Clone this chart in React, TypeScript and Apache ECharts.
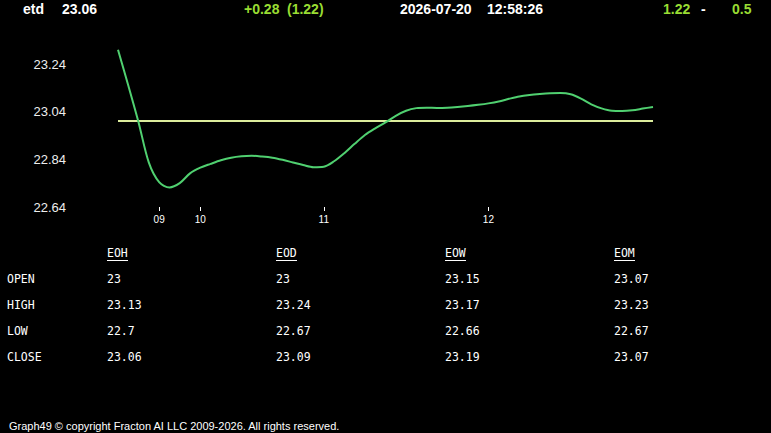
import React, { useEffect, useRef } from 'react';
import * as echarts from 'echarts';

const symbolName = 'etd';
const lastPrice = '23.06';
const changeAbs = '+0.28';
const changePct = '(1.22)';
const dateText = '2026-07-20';
const timeText = '12:58:26';
const rangeHigh = '1.22';
const rangeSep = '-';
const rangeLow = '0.5';
const openValue = 23.0;

const priceSeries = [
  23.3, 23.15, 22.995, 22.826, 22.744, 22.722, 22.74, 22.781, 22.805, 22.821,
  22.836, 22.847, 22.853, 22.855, 22.852, 22.847, 22.838, 22.827, 22.816, 22.807,
  22.809, 22.832, 22.866, 22.905, 22.942, 22.97, 22.995, 23.023, 23.044, 23.055,
  23.057, 23.056, 23.057, 23.06, 23.064, 23.069, 23.075, 23.083, 23.094, 23.104,
  23.11, 23.114, 23.117, 23.118, 23.113, 23.095, 23.071, 23.054, 23.044, 23.043,
  23.046, 23.053, 23.06,
];
const hourIndex = [4, 8, 20, 36];
const hourLabels = ['09', '10', '11', '12'];
const yTicks = [22.64, 22.84, 23.04, 23.24];
const yMin = 22.64;
const yMax = 23.32;

const tableColumns = ['EOH', 'EOD', 'EOW', 'EOM'];
const tableRows = ['OPEN', 'HIGH', 'LOW', 'CLOSE'];
const eohValues = ['23', '23.13', '22.7', '23.06'];
const eodValues = ['23', '23.24', '22.67', '23.09'];
const eowValues = ['23.15', '23.17', '22.66', '23.19'];
const eomValues = ['23.07', '23.23', '22.67', '23.07'];
const footerText = 'Graph49 \u00A9 copyright Fracton AI LLC 2009-2026. All rights reserved.';

const GREEN = '#99dd33';
const WHITE = '#ffffff';
const HEAD_FONT = 'bold 14px "Liberation Sans", Arial, sans-serif';
const MONO_FONT = '11.5px "DejaVu Sans Mono", monospace';

export default function App() {
  const ref = useRef<HTMLDivElement>(null);
  useEffect(() => {
    if (!ref.current) return;
    const chart = echarts.init(ref.current, null, { renderer: 'svg' });
    const categories = priceSeries.map((_, i) => String(i));
    const showIdx = (i: number) => hourIndex.indexOf(i) >= 0;

    const graphics: any[] = [];
    const txt = (x: number, y: number, text: string, fill: string, font: string) =>
      graphics.push({
        type: 'text', x, y, silent: true,
        style: { text, fill, font, align: 'left', verticalAlign: 'middle' },
      });
    // header
    txt(23, 9, symbolName, WHITE, HEAD_FONT);
    txt(62, 9, lastPrice, WHITE, HEAD_FONT);
    txt(244, 9, changeAbs, GREEN, HEAD_FONT);
    txt(287, 9, changePct, GREEN, HEAD_FONT);
    txt(400, 9, dateText, WHITE, HEAD_FONT);
    txt(487, 9, timeText, WHITE, HEAD_FONT);
    txt(663, 9, rangeHigh, GREEN, HEAD_FONT);
    txt(701, 9, rangeSep, WHITE, HEAD_FONT);
    txt(732, 9, rangeLow, GREEN, HEAD_FONT);
    // table
    const colX = [107, 276, 445, 614];
    const rowY = [279, 305, 331, 357];
    const colVals = [eohValues, eodValues, eowValues, eomValues];
    tableColumns.forEach((c, ci) => {
      txt(colX[ci], 253, c, WHITE, MONO_FONT);
      graphics.push({
        type: 'line', silent: true,
        shape: { x1: colX[ci], y1: 260.5, x2: colX[ci] + c.length * 7, y2: 260.5 },
        style: { stroke: WHITE, lineWidth: 1 },
      });
      colVals[ci].forEach((v, ri) => txt(colX[ci], rowY[ri], v, WHITE, MONO_FONT));
    });
    tableRows.forEach((r, ri) => txt(7, rowY[ri], r, WHITE, MONO_FONT));
    // footer
    txt(9, 426, footerText, WHITE, '11px "Liberation Sans", Arial, sans-serif');

    chart.setOption({
      animation: false,
      backgroundColor: '#000000',
      grid: { left: 118, right: 118, top: 45, height: 162 },
      xAxis: {
        type: 'category',
        data: categories,
        boundaryGap: false,
        axisLine: { show: false },
        axisTick: {
          show: true, length: 4, interval: (i: number) => showIdx(i),
          lineStyle: { color: WHITE, width: 1 },
        },
        axisLabel: {
          interval: (i: number) => showIdx(i),
          formatter: (_v: string, i: number) => {
            const k = hourIndex.indexOf(i);
            return k >= 0 ? hourLabels[k] : '';
          },
          color: WHITE,
          fontSize: 10,
          fontFamily: '"Liberation Sans", Arial, sans-serif',
          margin: 7,
        },
        splitLine: { show: false },
      },
      yAxis: {
        type: 'value',
        min: yMin,
        max: yMax,
        interval: 0.2,
        axisLine: { show: false },
        axisTick: { show: false },
        splitLine: { show: false },
        axisLabel: {
          color: '#eeeeee',
          fontSize: 13,
          fontFamily: '"Liberation Sans", Arial, sans-serif',
          margin: 52,
          formatter: (v: number) =>
            yTicks.some((t) => Math.abs(t - v) < 1e-6) ? v.toFixed(2) : '',
        },
      },
      series: [
        {
          type: 'line',
          data: priceSeries,
          smooth: 0.3,
          showSymbol: false,
          symbol: 'none',
          lineStyle: { color: '#50d070', width: 2 },
          z: 3,
          markLine: {
            silent: true,
            symbol: ['none', 'none'],
            label: { show: false },
            lineStyle: { color: '#dcec9c', width: 2, type: 'solid' },
            data: [{ yAxis: openValue }],
            z: 2,
          },
        },
      ],
      graphic: graphics,
    });
    return () => chart.dispose();
  }, []);
  return (
    <div
      ref={ref}
      style={{ position: 'fixed', left: 0, top: 0, width: 771, height: 433, background: '#000' }}
    />
  );
}
